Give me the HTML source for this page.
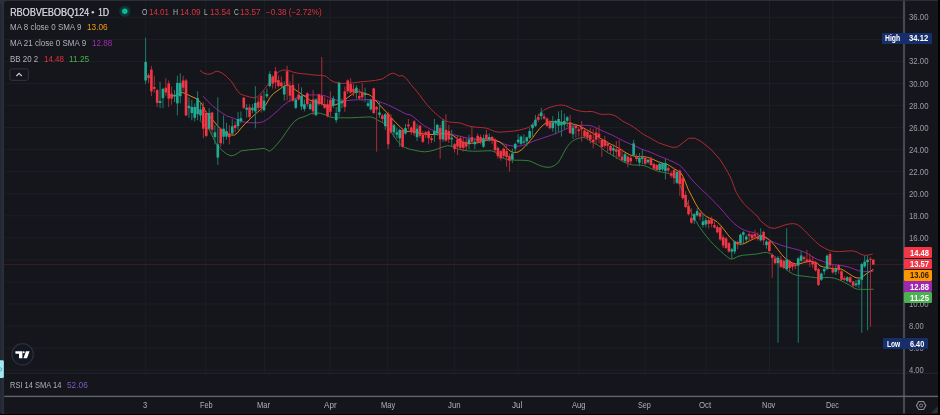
<!DOCTYPE html>
<html><head><meta charset="utf-8"><title>chart</title>
<style>
html,body{margin:0;padding:0;}
body{width:940px;height:415px;overflow:hidden;background:#000;position:relative;font-family:"Liberation Sans",sans-serif;}
.abs{position:absolute;}
#strip{left:0;top:0;width:8px;height:413.6px;background:linear-gradient(90deg,#242834 0,#242834 2.0px,#2a2e3a 2.4px);border-radius:0 0 0 2px;}
#topstrip{left:0;top:0;width:938px;height:4px;background:#2a2f3b;}
#panel{left:4.3px;top:0.7px;width:933.7px;height:412.9px;background:#14161b;border-radius:3px 0 2px 2px;overflow:hidden;}
svg{position:absolute;left:0;top:0;}
.t{position:absolute;line-height:12px;white-space:nowrap;transform-origin:0 50%;}
.tag{position:absolute;height:10.8px;}
#wrap{position:absolute;left:0;top:0;width:940px;height:415px;overflow:hidden;filter:blur(0.45px);}
</style></head><body><div id="wrap">
<div class="abs" id="strip"></div>
<div class="abs" id="topstrip"></div>
<div class="abs" id="panel"></div>
<svg width="940" height="415" viewBox="0 0 940 415">
<rect x="4.3" y="369.5" width="899" height="1" fill="#1c1e25"/><rect x="4.3" y="347.5" width="899" height="1" fill="#1c1e25"/><rect x="4.3" y="325.5" width="899" height="1" fill="#1c1e25"/><rect x="4.3" y="303.4" width="899" height="1" fill="#1c1e25"/><rect x="4.3" y="281.4" width="899" height="1" fill="#1c1e25"/><rect x="4.3" y="259.3" width="899" height="1" fill="#1c1e25"/><rect x="4.3" y="237.3" width="899" height="1" fill="#1c1e25"/><rect x="4.3" y="215.3" width="899" height="1" fill="#1c1e25"/><rect x="4.3" y="193.2" width="899" height="1" fill="#1c1e25"/><rect x="4.3" y="171.2" width="899" height="1" fill="#1c1e25"/><rect x="4.3" y="149.1" width="899" height="1" fill="#1c1e25"/><rect x="4.3" y="127.1" width="899" height="1" fill="#1c1e25"/><rect x="4.3" y="105.1" width="899" height="1" fill="#1c1e25"/><rect x="4.3" y="83.0" width="899" height="1" fill="#1c1e25"/><rect x="4.3" y="61.0" width="899" height="1" fill="#1c1e25"/><rect x="4.3" y="38.9" width="899" height="1" fill="#1c1e25"/><rect x="4.3" y="16.9" width="899" height="1" fill="#1c1e25"/><rect x="145.2" y="1" width="1" height="372" fill="#1c1e25"/><rect x="205.2" y="1" width="1" height="372" fill="#1c1e25"/><rect x="264.0" y="1" width="1" height="372" fill="#1c1e25"/><rect x="329.5" y="1" width="1" height="372" fill="#1c1e25"/><rect x="386.9" y="1" width="1" height="372" fill="#1c1e25"/><rect x="453.8" y="1" width="1" height="372" fill="#1c1e25"/><rect x="517.6" y="1" width="1" height="372" fill="#1c1e25"/><rect x="578.5" y="1" width="1" height="372" fill="#1c1e25"/><rect x="644.7" y="1" width="1" height="372" fill="#1c1e25"/><rect x="705.4" y="1" width="1" height="372" fill="#1c1e25"/><rect x="769.0" y="1" width="1" height="372" fill="#1c1e25"/><rect x="832.3" y="1" width="1" height="372" fill="#1c1e25"/>
<rect x="4.3" y="372.7" width="934" height="1" fill="#24272f"/>
<line x1="4.3" y1="264.5" x2="903" y2="264.5" stroke="#f23645" stroke-width="1" stroke-dasharray="1 1" opacity="0.34"/>
<g id="lines">
<polyline points="199.8,120.2 209.3,129.8 212.9,137.2 215.8,142.9 219.5,147.9 223.1,151.2 226.7,154.0 231.0,155.8 233.9,155.3 237.5,153.3 241.1,150.9 248.4,150.0 255.6,149.3 261.4,148.6 264.2,148.4 267.1,149.9 269.6,151.3 272.9,148.8 277.3,144.0 281.6,138.7 285.9,132.5 290.3,126.2 294.6,121.3 298.9,118.3 305.0,116.4 310.7,113.7 315.5,112.8 320.4,113.3 325.2,114.8 329.6,117.0 334.5,117.8 339.3,117.8 344.1,117.8 351.3,117.8 358.6,117.4 365.8,117.1 370.6,116.9 374.2,118.0 377.8,120.2 381.4,122.0 385.1,124.1 389.9,129.8 393.5,135.7 397.1,140.6 400.7,144.5 404.3,147.2 409.6,149.2 414.8,150.3 419.6,151.3 424.5,151.8 429.3,151.3 434.1,150.1 438.9,148.4 443.7,146.7 447.3,145.7 451.0,146.1 454.6,147.4 458.2,149.0 463.0,150.2 467.8,150.9 472.7,151.2 477.5,151.2 482.3,151.0 487.1,150.8 491.9,150.8 495.5,152.3 500.0,156.5 504.8,158.9 510.8,160.0 516.9,160.2 524.1,160.3 528.9,160.8 532.5,162.0 536.1,163.8 539.8,165.5 543.4,166.7 547.0,167.3 550.6,167.1 554.2,165.7 557.8,163.0 560.2,159.3 562.7,154.7 565.1,150.1 567.5,146.3 569.9,143.4 572.3,141.3 575.9,139.2 579.5,138.0 583.1,137.5 586.7,138.3 590.0,140.8 593.6,142.9 597.2,144.7 600.8,147.2 604.5,150.4 608.1,152.9 611.7,154.9 615.3,156.7 618.9,159.0 622.5,161.3 626.1,163.1 629.8,164.4 633.4,165.0 637.0,165.1 640.6,165.1 644.2,165.7 647.8,167.0 651.4,168.7 655.1,170.3 658.7,171.5 662.3,172.2 665.9,172.8 669.5,173.6 673.6,175.3 676.7,178.6 679.2,183.3 681.6,189.2 684.0,195.1 686.4,201.2 689.3,207.8 691.7,213.4 695.3,220.0 698.9,226.1 702.5,231.1 706.1,235.9 709.8,240.5 713.4,244.3 717.0,247.9 720.6,251.1 724.2,254.4 727.8,257.4 730.7,259.1 733.9,258.5 737.5,256.6 742.3,255.3 749.5,254.7 756.7,254.0 760.0,253.4 763.6,252.6 767.2,252.6 770.8,253.8 774.5,256.2 778.1,259.8 781.7,264.3 785.3,268.3 788.9,271.5 792.5,273.8 796.1,275.2 801.0,275.9 805.8,276.4 810.6,277.0 815.4,277.6 819.5,278.1 824.8,277.5 829.6,277.5 834.5,278.2 839.3,279.9 844.1,282.2 848.9,284.8 853.7,287.8 857.3,289.2 862.2,289.4 868.2,289.4 873.5,289.2" fill="none" stroke="#357f39" stroke-width="1.0" stroke-linejoin="round"/>
<polyline points="199.8,70.1 203.1,72.9 207.5,74.2 211.8,73.7 214.7,71.8 217.6,71.2 221.9,72.9 226.7,76.6 231.6,81.8 235.2,87.3 237.6,91.3 240.8,94.2 244.5,95.5 249.3,96.9 254.1,97.8 257.7,96.6 261.3,93.2 264.9,88.6 268.6,83.7 272.2,78.9 275.8,74.4 279.4,71.4 283.0,70.0 287.8,70.2 292.7,72.0 297.5,73.2 302.3,73.7 307.1,74.1 311.9,74.8 316.7,75.2 321.6,75.4 326.4,76.4 329.6,79.5 334.5,82.2 341.7,83.4 347.7,83.3 353.7,82.8 361.0,81.8 368.2,81.2 375.4,80.4 382.7,78.9 386.5,76.1 391.1,73.6 393.5,73.1 397.1,74.9 399.5,76.2 401.9,75.5 404.3,76.8 408.0,80.4 410.8,84.6 415.6,89.9 419.6,94.9 423.3,100.0 426.9,104.5 430.5,108.6 434.1,112.1 437.7,115.3 441.3,118.3 444.9,120.6 448.6,121.9 453.4,122.4 458.2,122.7 461.8,123.4 465.4,124.9 469.0,126.1 472.7,126.8 477.5,127.3 482.3,127.6 487.1,128.3 490.7,129.8 494.3,131.3 498.0,132.1 500.0,132.2 504.8,131.8 509.6,131.4 514.5,131.0 519.3,130.1 524.1,128.9 528.9,127.4 532.5,124.3 536.1,119.6 539.8,114.1 543.4,110.4 547.0,108.5 550.6,107.1 554.2,106.1 557.8,105.3 561.4,105.0 565.1,105.5 568.7,107.0 572.3,108.8 575.9,110.0 579.5,110.9 583.1,111.6 586.7,111.7 590.0,111.4 593.6,111.8 597.2,113.2 600.8,114.3 604.5,114.4 608.1,114.1 611.7,114.6 615.3,115.9 618.9,118.2 622.5,121.0 626.1,122.9 629.8,124.7 633.4,127.0 637.0,129.5 640.6,132.4 644.2,134.8 647.8,136.7 651.4,138.6 655.1,140.9 658.7,142.8 662.3,144.1 665.9,145.3 669.5,146.5 673.1,147.4 677.6,146.9 683.8,142.1 688.5,138.3 694.8,138.2 701.1,141.5 710.5,148.9 719.9,159.4 724.2,166.1 727.8,172.2 731.4,179.3 733.9,186.3 736.3,192.5 739.9,198.4 743.5,203.2 747.1,206.9 750.7,210.2 754.3,213.5 758.0,217.0 760.0,220.2 764.8,224.4 769.6,227.7 774.5,228.4 779.3,227.0 784.1,225.2 788.9,224.0 793.7,223.6 797.3,224.5 801.0,227.2 804.6,230.7 808.2,234.3 811.8,237.9 815.4,241.5 819.5,245.2 824.8,248.3 829.6,250.6 834.5,251.4 839.3,251.5 844.1,251.3 848.9,250.9 853.7,251.0 857.3,252.2 861.0,254.3 864.6,255.4 868.2,255.1 872.7,254.1" fill="none" stroke="#ad2a35" stroke-width="1.0" stroke-linejoin="round"/>
<polyline points="203.1,96.1 207.5,101.0 212.3,105.6 217.1,109.4 221.9,112.9 226.7,115.9 234.8,118.6 239.6,120.9 244.5,122.2 249.3,122.7 254.1,122.8 258.9,122.8 263.7,121.5 268.6,118.5 273.4,114.5 278.2,110.2 283.0,105.6 287.8,102.0 292.7,99.4 297.5,97.2 302.3,95.9 307.1,95.1 311.9,94.9 316.7,94.9 321.6,95.2 326.4,96.2 329.6,97.6 334.5,99.6 339.3,100.8 344.1,100.9 348.9,100.4 353.7,99.9 358.6,99.8 363.4,99.7 368.2,99.4 373.0,99.6 377.8,101.0 382.7,102.9 387.5,104.7 392.3,107.0 397.1,109.4 401.9,111.9 406.7,114.3 410.0,114.7 413.6,117.0 417.2,120.1 420.8,123.2 424.5,126.0 428.1,128.0 431.7,129.8 435.3,131.4 438.9,132.7 443.7,133.4 448.6,133.9 453.4,134.7 458.2,135.8 463.0,137.0 467.8,138.1 472.7,138.9 477.5,139.4 482.3,139.8 487.1,140.0 491.9,140.0 496.7,140.7 500.0,142.2 503.6,143.8 507.2,145.0 510.8,145.7 514.5,146.2 518.1,146.2 521.7,145.7 525.3,144.5 528.9,143.1 532.5,141.5 536.1,140.2 539.8,139.0 543.4,137.8 547.0,136.6 550.6,135.4 554.2,134.1 557.8,132.6 561.4,131.0 565.1,129.4 568.7,127.8 572.3,126.6 575.9,125.8 579.5,125.4 583.1,125.3 586.7,125.3 590.0,125.5 593.6,126.6 597.2,128.4 600.8,130.1 604.5,131.8 608.1,133.3 611.7,134.9 615.3,136.7 618.9,138.6 622.5,140.4 626.1,142.2 629.8,143.8 633.4,145.3 637.0,147.0 640.6,148.6 644.2,150.1 647.8,151.3 651.4,152.6 655.1,154.2 658.7,155.9 662.3,157.3 665.9,158.6 669.5,160.3 674.8,162.5 679.6,165.3 683.3,168.7 686.9,173.3 690.5,178.0 694.1,182.1 697.7,185.9 701.3,189.4 704.9,192.6 708.6,196.1 712.2,199.8 715.8,203.4 719.4,207.1 723.0,211.1 726.6,215.4 730.2,219.6 733.9,223.3 737.5,226.2 741.1,228.6 744.7,230.3 748.3,231.5 751.9,232.2 755.5,233.1 759.6,235.2 764.8,237.8 769.6,240.3 774.5,242.6 779.3,244.6 784.1,246.2 788.9,247.5 793.7,248.7 798.6,250.0 803.4,251.7 808.2,254.2 813.0,257.2 817.8,259.7 820.0,260.3 824.8,262.1 829.6,263.9 834.5,264.8 839.3,265.3 844.1,266.1 848.9,267.1 853.7,268.9 858.6,270.7 863.4,271.6 868.2,271.6 873.5,271.3" fill="none" stroke="#8c25a6" stroke-width="1.0" stroke-linejoin="round"/>
<polyline points="170.1,95.7 176.1,95.3 182.2,92.5 185.8,93.7 190.6,96.1 196.6,98.8 201.4,103.0 205.0,110.3 209.3,116.3 213.7,121.1 218.0,126.4 222.3,130.5 226.7,133.4 231.7,135.1 234.6,135.0 237.5,132.7 241.1,128.1 245.5,123.3 249.8,119.3 254.1,115.0 259.9,110.2 265.7,105.0 269.8,97.8 273.4,93.6 277.0,91.0 280.6,88.5 284.2,85.9 287.8,84.9 291.4,86.5 295.1,89.6 298.7,92.2 302.3,94.6 305.9,97.1 309.5,99.9 313.1,101.5 316.7,102.0 320.4,103.1 324.0,104.9 327.6,106.3 329.6,106.2 334.5,105.1 339.3,103.3 344.1,100.8 347.7,97.6 351.3,94.9 354.9,92.7 358.6,91.7 362.2,92.5 365.8,93.7 369.4,94.9 371.8,96.5 375.4,100.0 379.0,104.4 382.7,108.2 386.3,112.0 389.9,116.4 393.5,120.2 397.1,123.9 400.7,127.5 404.3,130.6 408.0,131.5 410.0,131.2 414.8,131.7 419.6,133.2 424.5,134.1 429.3,134.5 434.1,134.5 438.9,134.1 443.7,133.5 448.6,133.8 453.4,135.8 457.0,138.3 460.6,140.9 464.2,142.8 467.8,143.4 471.4,143.4 475.1,143.0 478.7,142.5 482.3,141.7 485.9,140.6 489.5,139.6 493.1,139.7 496.7,140.9 500.0,142.0 503.6,145.1 507.2,148.6 510.8,151.5 514.5,152.7 518.1,152.0 521.7,149.7 525.3,146.2 528.9,142.1 532.5,137.8 536.1,133.0 539.8,128.4 543.4,124.8 547.0,122.4 550.6,121.6 554.2,121.5 557.8,121.7 561.4,122.2 565.1,122.9 568.7,123.4 572.3,123.9 575.9,124.7 579.5,125.9 583.1,127.8 586.7,129.9 590.0,131.5 593.6,133.7 597.2,136.1 600.8,138.6 604.5,140.9 608.1,142.9 611.7,144.6 615.3,146.3 618.9,148.3 622.5,150.6 626.1,152.9 629.8,154.8 633.4,156.0 637.0,156.5 640.6,156.6 644.2,156.7 647.8,157.4 651.4,158.6 655.1,160.3 658.7,162.0 662.3,163.1 665.9,163.9 669.5,165.5 673.6,168.6 677.2,170.4 680.8,172.9 683.3,177.1 685.7,182.9 688.1,189.1 691.7,196.1 695.3,203.2 698.9,209.1 702.5,213.3 706.1,216.4 709.8,218.2 713.4,219.6 717.0,221.7 720.6,225.3 724.2,229.9 727.8,234.6 731.4,238.9 735.1,242.2 738.7,244.0 742.3,244.1 745.9,242.9 749.5,240.8 753.1,239.1 756.7,237.4 760.0,235.5 763.6,236.2 767.2,238.1 770.8,241.2 774.5,245.2 778.1,249.9 781.7,254.6 785.3,258.3 788.9,261.1 792.5,263.0 796.1,263.8 799.8,263.7 803.4,262.7 807.0,261.7 810.6,261.4 814.2,262.1 817.8,263.5 820.0,266.0 823.6,267.0 827.2,267.7 830.8,268.4 834.5,268.8 838.1,268.6 841.7,269.2 845.3,271.3 848.9,273.7 852.5,276.1 856.1,277.8 859.8,278.1 863.4,276.1 867.0,273.3 870.6,271.0 873.5,269.4" fill="none" stroke="#dc8712" stroke-width="1.0" stroke-linejoin="round"/>
</g>
<g id="candles">
<rect x="145.11" y="37.7" width="1" height="46.4" fill="#1c7d6d"/>
<rect x="144.31" y="61.9" width="2.6" height="18.6" fill="#22ab94"/>
<rect x="148.00" y="73.3" width="1" height="9.6" fill="#aa2c39"/>
<rect x="147.20" y="75.2" width="2.6" height="2.9" fill="#f23645"/>
<rect x="150.89" y="66.0" width="1" height="30.1" fill="#aa2c39"/>
<rect x="150.09" y="69.6" width="2.6" height="21.7" fill="#f23645"/>
<rect x="153.77" y="75.7" width="1" height="16.9" fill="#aa2c39"/>
<rect x="152.97" y="87.0" width="2.6" height="1.9" fill="#f23645"/>
<rect x="156.66" y="88.9" width="1" height="18.1" fill="#aa2c39"/>
<rect x="155.86" y="90.1" width="2.6" height="12.8" fill="#f23645"/>
<rect x="159.55" y="81.7" width="1" height="26.5" fill="#1c7d6d"/>
<rect x="158.75" y="101.0" width="2.6" height="1.9" fill="#22ab94"/>
<rect x="162.44" y="87.7" width="1" height="20.5" fill="#1c7d6d"/>
<rect x="161.64" y="88.9" width="2.6" height="9.2" fill="#22ab94"/>
<rect x="165.32" y="78.1" width="1" height="18.1" fill="#aa2c39"/>
<rect x="164.52" y="87.7" width="2.6" height="4.8" fill="#f23645"/>
<rect x="168.21" y="80.5" width="1" height="26.5" fill="#aa2c39"/>
<rect x="167.41" y="83.4" width="2.6" height="15.2" fill="#f23645"/>
<rect x="171.10" y="86.5" width="1" height="18.1" fill="#aa2c39"/>
<rect x="170.30" y="93.7" width="2.6" height="4.8" fill="#f23645"/>
<rect x="173.99" y="90.1" width="1" height="12.0" fill="#1c7d6d"/>
<rect x="173.19" y="94.9" width="2.6" height="1.7" fill="#22ab94"/>
<rect x="176.87" y="75.7" width="1" height="39.8" fill="#1c7d6d"/>
<rect x="176.07" y="82.9" width="2.6" height="20.5" fill="#22ab94"/>
<rect x="179.76" y="73.3" width="1" height="30.1" fill="#1c7d6d"/>
<rect x="178.96" y="82.9" width="2.6" height="13.3" fill="#22ab94"/>
<rect x="182.65" y="75.7" width="1" height="15.7" fill="#aa2c39"/>
<rect x="181.85" y="80.5" width="2.6" height="7.2" fill="#f23645"/>
<rect x="185.54" y="78.8" width="1" height="37.1" fill="#aa2c39"/>
<rect x="184.74" y="80.5" width="2.6" height="34.9" fill="#f23645"/>
<rect x="188.43" y="97.3" width="1" height="20.5" fill="#1c7d6d"/>
<rect x="187.63" y="105.8" width="2.6" height="2.4" fill="#22ab94"/>
<rect x="191.31" y="99.8" width="1" height="20.5" fill="#1c7d6d"/>
<rect x="190.51" y="107.0" width="2.6" height="6.0" fill="#22ab94"/>
<rect x="194.20" y="103.4" width="1" height="18.1" fill="#1c7d6d"/>
<rect x="193.40" y="107.0" width="2.6" height="10.8" fill="#22ab94"/>
<rect x="197.09" y="91.3" width="1" height="28.9" fill="#1c7d6d"/>
<rect x="196.29" y="98.1" width="2.6" height="16.1" fill="#22ab94"/>
<rect x="199.98" y="102.2" width="1" height="18.1" fill="#1c7d6d"/>
<rect x="199.18" y="109.4" width="2.6" height="6.0" fill="#22ab94"/>
<rect x="202.86" y="102.2" width="1" height="36.1" fill="#aa2c39"/>
<rect x="202.06" y="107.0" width="2.6" height="21.7" fill="#f23645"/>
<rect x="205.75" y="111.8" width="1" height="25.3" fill="#aa2c39"/>
<rect x="204.95" y="113.0" width="2.6" height="22.9" fill="#f23645"/>
<rect x="208.64" y="108.2" width="1" height="21.7" fill="#1c7d6d"/>
<rect x="207.84" y="113.0" width="2.6" height="15.7" fill="#22ab94"/>
<rect x="211.53" y="111.8" width="1" height="22.9" fill="#aa2c39"/>
<rect x="210.73" y="112.5" width="2.6" height="17.3" fill="#f23645"/>
<rect x="214.41" y="125.1" width="1" height="19.3" fill="#1c7d6d"/>
<rect x="213.61" y="132.3" width="2.6" height="4.8" fill="#22ab94"/>
<rect x="217.30" y="97.3" width="1" height="67.5" fill="#1c7d6d"/>
<rect x="216.50" y="144.3" width="2.6" height="13.3" fill="#22ab94"/>
<rect x="220.19" y="127.5" width="1" height="19.3" fill="#aa2c39"/>
<rect x="219.39" y="128.7" width="2.6" height="14.5" fill="#f23645"/>
<rect x="223.08" y="115.4" width="1" height="28.9" fill="#1c7d6d"/>
<rect x="222.28" y="128.7" width="2.6" height="8.0" fill="#22ab94"/>
<rect x="225.97" y="122.7" width="1" height="16.9" fill="#1c7d6d"/>
<rect x="225.17" y="131.1" width="2.6" height="5.5" fill="#22ab94"/>
<rect x="228.85" y="125.1" width="1" height="19.3" fill="#aa2c39"/>
<rect x="228.05" y="133.5" width="2.6" height="3.6" fill="#f23645"/>
<rect x="231.74" y="119.0" width="1" height="15.7" fill="#1c7d6d"/>
<rect x="230.94" y="126.3" width="2.6" height="7.2" fill="#22ab94"/>
<rect x="234.63" y="121.4" width="1" height="10.8" fill="#aa2c39"/>
<rect x="233.83" y="125.1" width="2.6" height="2.9" fill="#f23645"/>
<rect x="237.52" y="111.8" width="1" height="18.1" fill="#1c7d6d"/>
<rect x="236.72" y="119.0" width="2.6" height="7.2" fill="#22ab94"/>
<rect x="240.40" y="111.4" width="1" height="12.0" fill="#1c7d6d"/>
<rect x="239.60" y="118.2" width="2.6" height="2.9" fill="#22ab94"/>
<rect x="243.29" y="97.0" width="1" height="12.0" fill="#aa2c39"/>
<rect x="242.49" y="97.7" width="2.6" height="10.1" fill="#f23645"/>
<rect x="246.18" y="104.2" width="1" height="13.3" fill="#1c7d6d"/>
<rect x="245.38" y="107.8" width="2.6" height="1.9" fill="#22ab94"/>
<rect x="249.07" y="104.2" width="1" height="14.5" fill="#aa2c39"/>
<rect x="248.27" y="107.3" width="2.6" height="9.6" fill="#f23645"/>
<rect x="251.95" y="104.2" width="1" height="8.9" fill="#1c7d6d"/>
<rect x="251.15" y="107.8" width="2.6" height="2.4" fill="#22ab94"/>
<rect x="254.84" y="86.1" width="1" height="42.2" fill="#1c7d6d"/>
<rect x="254.04" y="103.0" width="2.6" height="8.4" fill="#22ab94"/>
<rect x="257.73" y="97.0" width="1" height="13.3" fill="#aa2c39"/>
<rect x="256.93" y="101.8" width="2.6" height="6.0" fill="#f23645"/>
<rect x="260.62" y="93.4" width="1" height="19.3" fill="#aa2c39"/>
<rect x="259.82" y="95.8" width="2.6" height="12.0" fill="#f23645"/>
<rect x="263.51" y="91.0" width="1" height="20.5" fill="#1c7d6d"/>
<rect x="262.71" y="100.6" width="2.6" height="9.6" fill="#22ab94"/>
<rect x="266.39" y="88.6" width="1" height="9.6" fill="#1c7d6d"/>
<rect x="265.59" y="94.1" width="2.6" height="2.2" fill="#22ab94"/>
<rect x="269.28" y="71.2" width="1" height="16.1" fill="#1c7d6d"/>
<rect x="268.48" y="74.1" width="2.6" height="12.0" fill="#22ab94"/>
<rect x="272.17" y="75.3" width="1" height="13.3" fill="#aa2c39"/>
<rect x="271.37" y="76.5" width="2.6" height="7.2" fill="#f23645"/>
<rect x="275.06" y="66.9" width="1" height="21.7" fill="#aa2c39"/>
<rect x="274.26" y="71.2" width="2.6" height="11.3" fill="#f23645"/>
<rect x="277.94" y="75.3" width="1" height="12.0" fill="#aa2c39"/>
<rect x="277.14" y="80.1" width="2.6" height="6.0" fill="#f23645"/>
<rect x="280.83" y="76.5" width="1" height="10.8" fill="#aa2c39"/>
<rect x="280.03" y="82.5" width="2.6" height="3.6" fill="#f23645"/>
<rect x="283.72" y="81.3" width="1" height="19.3" fill="#1c7d6d"/>
<rect x="282.92" y="86.1" width="2.6" height="8.4" fill="#22ab94"/>
<rect x="286.61" y="65.7" width="1" height="34.9" fill="#aa2c39"/>
<rect x="285.81" y="71.2" width="2.6" height="14.9" fill="#f23645"/>
<rect x="289.50" y="81.3" width="1" height="20.5" fill="#aa2c39"/>
<rect x="288.69" y="86.1" width="2.6" height="9.6" fill="#f23645"/>
<rect x="292.38" y="74.1" width="1" height="27.7" fill="#aa2c39"/>
<rect x="291.58" y="84.9" width="2.6" height="15.7" fill="#f23645"/>
<rect x="295.27" y="98.2" width="1" height="10.8" fill="#1c7d6d"/>
<rect x="294.47" y="99.4" width="2.6" height="8.4" fill="#22ab94"/>
<rect x="298.16" y="83.7" width="1" height="16.9" fill="#aa2c39"/>
<rect x="297.36" y="94.6" width="2.6" height="4.8" fill="#f23645"/>
<rect x="301.05" y="87.3" width="1" height="22.9" fill="#1c7d6d"/>
<rect x="300.25" y="95.8" width="2.6" height="10.8" fill="#22ab94"/>
<rect x="303.93" y="99.4" width="1" height="12.0" fill="#1c7d6d"/>
<rect x="303.13" y="104.2" width="2.6" height="4.8" fill="#22ab94"/>
<rect x="306.82" y="92.2" width="1" height="14.5" fill="#aa2c39"/>
<rect x="306.02" y="93.4" width="2.6" height="10.8" fill="#f23645"/>
<rect x="309.71" y="101.8" width="1" height="8.4" fill="#1c7d6d"/>
<rect x="308.91" y="104.2" width="2.6" height="4.8" fill="#22ab94"/>
<rect x="312.60" y="89.8" width="1" height="25.3" fill="#aa2c39"/>
<rect x="311.80" y="99.4" width="2.6" height="12.0" fill="#f23645"/>
<rect x="315.48" y="98.2" width="1" height="18.1" fill="#1c7d6d"/>
<rect x="314.68" y="99.4" width="2.6" height="15.7" fill="#22ab94"/>
<rect x="318.37" y="93.4" width="1" height="12.0" fill="#aa2c39"/>
<rect x="317.57" y="94.6" width="2.6" height="9.6" fill="#f23645"/>
<rect x="321.26" y="57.2" width="1" height="48.2" fill="#aa2c39"/>
<rect x="320.46" y="95.8" width="2.6" height="8.4" fill="#f23645"/>
<rect x="324.15" y="97.0" width="1" height="12.0" fill="#aa2c39"/>
<rect x="323.35" y="104.2" width="2.6" height="3.6" fill="#f23645"/>
<rect x="327.04" y="99.4" width="1" height="18.1" fill="#aa2c39"/>
<rect x="326.24" y="104.2" width="2.6" height="12.0" fill="#f23645"/>
<rect x="329.92" y="91.3" width="1" height="25.3" fill="#aa2c39"/>
<rect x="329.12" y="99.8" width="2.6" height="12.0" fill="#f23645"/>
<rect x="332.81" y="96.1" width="1" height="12.0" fill="#1c7d6d"/>
<rect x="332.01" y="98.6" width="2.6" height="7.2" fill="#22ab94"/>
<rect x="335.70" y="107.0" width="1" height="15.7" fill="#1c7d6d"/>
<rect x="334.90" y="113.0" width="2.6" height="7.2" fill="#22ab94"/>
<rect x="338.59" y="81.7" width="1" height="34.9" fill="#1c7d6d"/>
<rect x="337.79" y="82.9" width="2.6" height="28.9" fill="#22ab94"/>
<rect x="341.47" y="98.6" width="1" height="9.6" fill="#1c7d6d"/>
<rect x="340.67" y="101.4" width="2.6" height="1.9" fill="#22ab94"/>
<rect x="344.36" y="86.5" width="1" height="25.3" fill="#aa2c39"/>
<rect x="343.56" y="91.3" width="2.6" height="15.7" fill="#f23645"/>
<rect x="347.25" y="79.3" width="1" height="14.5" fill="#aa2c39"/>
<rect x="346.45" y="80.5" width="2.6" height="10.8" fill="#f23645"/>
<rect x="350.14" y="78.1" width="1" height="15.7" fill="#aa2c39"/>
<rect x="349.34" y="84.1" width="2.6" height="8.4" fill="#f23645"/>
<rect x="353.02" y="84.1" width="1" height="12.0" fill="#aa2c39"/>
<rect x="352.22" y="88.9" width="2.6" height="3.6" fill="#f23645"/>
<rect x="355.91" y="85.3" width="1" height="13.3" fill="#1c7d6d"/>
<rect x="355.11" y="87.7" width="2.6" height="4.8" fill="#22ab94"/>
<rect x="358.80" y="88.9" width="1" height="10.8" fill="#aa2c39"/>
<rect x="358.00" y="96.1" width="2.6" height="2.4" fill="#f23645"/>
<rect x="361.69" y="82.9" width="1" height="18.1" fill="#aa2c39"/>
<rect x="360.89" y="92.5" width="2.6" height="4.8" fill="#f23645"/>
<rect x="364.58" y="87.7" width="1" height="14.5" fill="#1c7d6d"/>
<rect x="363.78" y="93.3" width="2.6" height="1.7" fill="#22ab94"/>
<rect x="367.46" y="99.8" width="1" height="7.2" fill="#1c7d6d"/>
<rect x="366.66" y="103.4" width="2.6" height="2.4" fill="#22ab94"/>
<rect x="370.35" y="98.6" width="1" height="12.0" fill="#1c7d6d"/>
<rect x="369.55" y="99.8" width="2.6" height="9.6" fill="#22ab94"/>
<rect x="373.24" y="87.7" width="1" height="26.5" fill="#aa2c39"/>
<rect x="372.44" y="88.4" width="2.6" height="24.6" fill="#f23645"/>
<rect x="376.13" y="105.8" width="1" height="45.8" fill="#aa2c39"/>
<rect x="375.33" y="107.0" width="2.6" height="2.4" fill="#f23645"/>
<rect x="379.01" y="102.2" width="1" height="15.7" fill="#1c7d6d"/>
<rect x="378.21" y="112.5" width="2.6" height="2.4" fill="#22ab94"/>
<rect x="381.90" y="114.2" width="1" height="8.4" fill="#aa2c39"/>
<rect x="381.10" y="115.4" width="2.6" height="3.6" fill="#f23645"/>
<rect x="384.79" y="113.0" width="1" height="16.9" fill="#1c7d6d"/>
<rect x="383.99" y="114.2" width="2.6" height="12.0" fill="#22ab94"/>
<rect x="387.68" y="111.8" width="1" height="37.3" fill="#aa2c39"/>
<rect x="386.88" y="113.5" width="2.6" height="30.8" fill="#f23645"/>
<rect x="390.56" y="114.2" width="1" height="19.3" fill="#aa2c39"/>
<rect x="389.76" y="117.8" width="2.6" height="14.5" fill="#f23645"/>
<rect x="393.45" y="123.9" width="1" height="13.3" fill="#1c7d6d"/>
<rect x="392.65" y="125.1" width="2.6" height="7.2" fill="#22ab94"/>
<rect x="396.34" y="127.5" width="1" height="10.8" fill="#1c7d6d"/>
<rect x="395.54" y="132.3" width="2.6" height="2.4" fill="#22ab94"/>
<rect x="399.23" y="128.7" width="1" height="18.1" fill="#1c7d6d"/>
<rect x="398.43" y="129.9" width="2.6" height="8.4" fill="#22ab94"/>
<rect x="402.12" y="128.7" width="1" height="19.3" fill="#aa2c39"/>
<rect x="401.32" y="129.9" width="2.6" height="16.9" fill="#f23645"/>
<rect x="405.00" y="123.9" width="1" height="10.8" fill="#1c7d6d"/>
<rect x="404.20" y="128.0" width="2.6" height="5.5" fill="#22ab94"/>
<rect x="407.89" y="119.0" width="1" height="10.8" fill="#aa2c39"/>
<rect x="407.09" y="124.6" width="2.6" height="1.7" fill="#f23645"/>
<rect x="410.78" y="126.3" width="1" height="8.4" fill="#aa2c39"/>
<rect x="409.98" y="127.5" width="2.6" height="4.8" fill="#f23645"/>
<rect x="413.67" y="120.2" width="1" height="15.7" fill="#aa2c39"/>
<rect x="412.87" y="121.4" width="2.6" height="12.0" fill="#f23645"/>
<rect x="416.55" y="123.9" width="1" height="16.9" fill="#1c7d6d"/>
<rect x="415.75" y="128.7" width="2.6" height="8.4" fill="#22ab94"/>
<rect x="419.44" y="124.9" width="1" height="13.3" fill="#aa2c39"/>
<rect x="418.64" y="125.7" width="2.6" height="10.1" fill="#f23645"/>
<rect x="422.33" y="131.0" width="1" height="12.0" fill="#aa2c39"/>
<rect x="421.53" y="134.6" width="2.6" height="7.2" fill="#f23645"/>
<rect x="425.22" y="131.0" width="1" height="7.2" fill="#aa2c39"/>
<rect x="424.42" y="132.2" width="2.6" height="2.4" fill="#f23645"/>
<rect x="428.10" y="129.8" width="1" height="14.5" fill="#aa2c39"/>
<rect x="427.30" y="131.4" width="2.6" height="6.7" fill="#f23645"/>
<rect x="430.99" y="135.8" width="1" height="7.2" fill="#aa2c39"/>
<rect x="430.19" y="138.2" width="2.6" height="1.9" fill="#f23645"/>
<rect x="433.88" y="118.9" width="1" height="22.9" fill="#1c7d6d"/>
<rect x="433.08" y="131.0" width="2.6" height="3.6" fill="#22ab94"/>
<rect x="436.77" y="123.7" width="1" height="12.0" fill="#1c7d6d"/>
<rect x="435.97" y="124.9" width="2.6" height="8.4" fill="#22ab94"/>
<rect x="439.66" y="124.9" width="1" height="33.7" fill="#aa2c39"/>
<rect x="438.86" y="128.1" width="2.6" height="11.3" fill="#f23645"/>
<rect x="442.54" y="118.9" width="1" height="22.9" fill="#1c7d6d"/>
<rect x="441.74" y="120.8" width="2.6" height="18.6" fill="#22ab94"/>
<rect x="445.43" y="114.1" width="1" height="27.7" fill="#aa2c39"/>
<rect x="444.63" y="129.8" width="2.6" height="10.8" fill="#f23645"/>
<rect x="448.32" y="124.9" width="1" height="18.1" fill="#aa2c39"/>
<rect x="447.52" y="131.0" width="2.6" height="8.4" fill="#f23645"/>
<rect x="451.21" y="129.8" width="1" height="16.9" fill="#1c7d6d"/>
<rect x="450.41" y="137.7" width="2.6" height="1.7" fill="#22ab94"/>
<rect x="454.09" y="143.0" width="1" height="9.6" fill="#aa2c39"/>
<rect x="453.29" y="144.2" width="2.6" height="4.8" fill="#f23645"/>
<rect x="456.98" y="135.8" width="1" height="19.3" fill="#aa2c39"/>
<rect x="456.18" y="139.4" width="2.6" height="7.2" fill="#f23645"/>
<rect x="459.87" y="135.8" width="1" height="14.5" fill="#aa2c39"/>
<rect x="459.07" y="138.2" width="2.6" height="9.6" fill="#f23645"/>
<rect x="462.76" y="137.0" width="1" height="14.5" fill="#aa2c39"/>
<rect x="461.96" y="141.8" width="2.6" height="6.0" fill="#f23645"/>
<rect x="465.64" y="138.2" width="1" height="12.0" fill="#aa2c39"/>
<rect x="464.84" y="141.8" width="2.6" height="4.8" fill="#f23645"/>
<rect x="468.53" y="134.6" width="1" height="14.5" fill="#1c7d6d"/>
<rect x="467.73" y="139.4" width="2.6" height="4.8" fill="#22ab94"/>
<rect x="471.42" y="126.1" width="1" height="18.1" fill="#aa2c39"/>
<rect x="470.62" y="137.0" width="2.6" height="4.8" fill="#f23645"/>
<rect x="474.31" y="138.2" width="1" height="10.8" fill="#1c7d6d"/>
<rect x="473.51" y="141.8" width="2.6" height="2.4" fill="#22ab94"/>
<rect x="477.20" y="133.4" width="1" height="10.8" fill="#aa2c39"/>
<rect x="476.40" y="135.8" width="2.6" height="6.0" fill="#f23645"/>
<rect x="480.08" y="134.6" width="1" height="9.6" fill="#aa2c39"/>
<rect x="479.28" y="137.0" width="2.6" height="4.8" fill="#f23645"/>
<rect x="482.97" y="134.6" width="1" height="13.3" fill="#1c7d6d"/>
<rect x="482.17" y="138.2" width="2.6" height="8.4" fill="#22ab94"/>
<rect x="485.86" y="129.8" width="1" height="10.8" fill="#aa2c39"/>
<rect x="485.06" y="134.6" width="2.6" height="4.8" fill="#f23645"/>
<rect x="488.75" y="133.4" width="1" height="8.4" fill="#1c7d6d"/>
<rect x="487.95" y="137.0" width="2.6" height="2.4" fill="#22ab94"/>
<rect x="491.63" y="135.8" width="1" height="8.4" fill="#aa2c39"/>
<rect x="490.83" y="137.0" width="2.6" height="3.6" fill="#f23645"/>
<rect x="494.52" y="138.2" width="1" height="14.5" fill="#aa2c39"/>
<rect x="493.72" y="139.4" width="2.6" height="10.8" fill="#f23645"/>
<rect x="497.41" y="146.6" width="1" height="12.0" fill="#aa2c39"/>
<rect x="496.61" y="147.8" width="2.6" height="8.4" fill="#f23645"/>
<rect x="500.30" y="149.9" width="1" height="10.8" fill="#aa2c39"/>
<rect x="499.50" y="151.1" width="2.6" height="7.2" fill="#f23645"/>
<rect x="503.18" y="147.5" width="1" height="10.8" fill="#aa2c39"/>
<rect x="502.38" y="148.7" width="2.6" height="7.2" fill="#f23645"/>
<rect x="506.07" y="145.1" width="1" height="21.7" fill="#aa2c39"/>
<rect x="505.27" y="151.1" width="2.6" height="6.0" fill="#f23645"/>
<rect x="508.96" y="153.5" width="1" height="18.1" fill="#aa2c39"/>
<rect x="508.16" y="155.9" width="2.6" height="4.8" fill="#f23645"/>
<rect x="511.85" y="148.7" width="1" height="14.5" fill="#1c7d6d"/>
<rect x="511.05" y="153.5" width="2.6" height="6.0" fill="#22ab94"/>
<rect x="514.74" y="142.7" width="1" height="9.6" fill="#1c7d6d"/>
<rect x="513.94" y="143.9" width="2.6" height="4.8" fill="#22ab94"/>
<rect x="517.62" y="134.2" width="1" height="9.6" fill="#1c7d6d"/>
<rect x="516.82" y="139.8" width="2.6" height="2.4" fill="#22ab94"/>
<rect x="520.51" y="135.4" width="1" height="9.6" fill="#1c7d6d"/>
<rect x="519.71" y="136.6" width="2.6" height="7.2" fill="#22ab94"/>
<rect x="523.40" y="134.2" width="1" height="9.6" fill="#1c7d6d"/>
<rect x="522.60" y="141.4" width="2.6" height="1.2" fill="#22ab94"/>
<rect x="526.29" y="136.6" width="1" height="9.6" fill="#1c7d6d"/>
<rect x="525.49" y="137.3" width="2.6" height="4.1" fill="#22ab94"/>
<rect x="529.17" y="128.2" width="1" height="10.8" fill="#1c7d6d"/>
<rect x="528.37" y="131.1" width="2.6" height="6.7" fill="#22ab94"/>
<rect x="532.06" y="123.4" width="1" height="13.3" fill="#1c7d6d"/>
<rect x="531.26" y="124.6" width="2.6" height="3.6" fill="#22ab94"/>
<rect x="534.95" y="114.9" width="1" height="12.0" fill="#1c7d6d"/>
<rect x="534.15" y="119.8" width="2.6" height="6.0" fill="#22ab94"/>
<rect x="537.84" y="113.7" width="1" height="8.4" fill="#aa2c39"/>
<rect x="537.04" y="117.3" width="2.6" height="2.4" fill="#f23645"/>
<rect x="540.72" y="107.7" width="1" height="12.0" fill="#1c7d6d"/>
<rect x="539.92" y="112.5" width="2.6" height="3.6" fill="#22ab94"/>
<rect x="543.61" y="113.7" width="1" height="6.0" fill="#aa2c39"/>
<rect x="542.81" y="116.6" width="2.6" height="1.9" fill="#f23645"/>
<rect x="546.50" y="117.3" width="1" height="9.6" fill="#aa2c39"/>
<rect x="545.70" y="118.6" width="2.6" height="7.2" fill="#f23645"/>
<rect x="549.39" y="119.8" width="1" height="9.6" fill="#aa2c39"/>
<rect x="548.59" y="122.2" width="2.6" height="6.0" fill="#f23645"/>
<rect x="552.28" y="116.1" width="1" height="15.7" fill="#1c7d6d"/>
<rect x="551.48" y="122.2" width="2.6" height="6.0" fill="#22ab94"/>
<rect x="555.16" y="119.8" width="1" height="14.5" fill="#1c7d6d"/>
<rect x="554.36" y="121.0" width="2.6" height="2.4" fill="#22ab94"/>
<rect x="558.05" y="111.3" width="1" height="20.5" fill="#1c7d6d"/>
<rect x="557.25" y="119.0" width="2.6" height="6.7" fill="#22ab94"/>
<rect x="560.94" y="110.1" width="1" height="26.5" fill="#1c7d6d"/>
<rect x="560.14" y="122.2" width="2.6" height="3.1" fill="#22ab94"/>
<rect x="563.83" y="113.7" width="1" height="15.7" fill="#1c7d6d"/>
<rect x="563.03" y="121.0" width="2.6" height="3.6" fill="#22ab94"/>
<rect x="566.71" y="116.1" width="1" height="10.8" fill="#1c7d6d"/>
<rect x="565.91" y="117.3" width="2.6" height="3.6" fill="#22ab94"/>
<rect x="569.60" y="114.9" width="1" height="19.3" fill="#aa2c39"/>
<rect x="568.80" y="122.2" width="2.6" height="10.8" fill="#f23645"/>
<rect x="572.49" y="123.4" width="1" height="15.7" fill="#1c7d6d"/>
<rect x="571.69" y="127.7" width="2.6" height="6.5" fill="#22ab94"/>
<rect x="575.38" y="124.6" width="1" height="13.3" fill="#aa2c39"/>
<rect x="574.58" y="125.8" width="2.6" height="2.4" fill="#f23645"/>
<rect x="578.27" y="127.0" width="1" height="9.6" fill="#aa2c39"/>
<rect x="577.47" y="129.4" width="2.6" height="1.7" fill="#f23645"/>
<rect x="581.15" y="121.0" width="1" height="20.5" fill="#aa2c39"/>
<rect x="580.35" y="127.0" width="2.6" height="2.4" fill="#f23645"/>
<rect x="584.04" y="129.4" width="1" height="8.4" fill="#aa2c39"/>
<rect x="583.24" y="130.6" width="2.6" height="6.0" fill="#f23645"/>
<rect x="586.93" y="129.4" width="1" height="10.8" fill="#aa2c39"/>
<rect x="586.13" y="131.8" width="2.6" height="6.0" fill="#f23645"/>
<rect x="589.82" y="127.7" width="1" height="15.7" fill="#aa2c39"/>
<rect x="589.02" y="134.9" width="2.6" height="4.8" fill="#f23645"/>
<rect x="592.70" y="128.9" width="1" height="19.3" fill="#aa2c39"/>
<rect x="591.90" y="139.8" width="2.6" height="2.4" fill="#f23645"/>
<rect x="595.59" y="127.7" width="1" height="16.9" fill="#aa2c39"/>
<rect x="594.79" y="132.5" width="2.6" height="7.2" fill="#f23645"/>
<rect x="598.48" y="125.3" width="1" height="18.1" fill="#aa2c39"/>
<rect x="597.68" y="133.7" width="2.6" height="3.6" fill="#f23645"/>
<rect x="601.37" y="138.6" width="1" height="18.1" fill="#aa2c39"/>
<rect x="600.57" y="139.8" width="2.6" height="7.2" fill="#f23645"/>
<rect x="604.25" y="136.1" width="1" height="12.0" fill="#aa2c39"/>
<rect x="603.45" y="139.8" width="2.6" height="6.0" fill="#f23645"/>
<rect x="607.14" y="141.0" width="1" height="10.8" fill="#aa2c39"/>
<rect x="606.34" y="143.4" width="2.6" height="2.4" fill="#f23645"/>
<rect x="610.03" y="144.6" width="1" height="9.6" fill="#aa2c39"/>
<rect x="609.23" y="145.8" width="2.6" height="4.8" fill="#f23645"/>
<rect x="612.92" y="144.6" width="1" height="12.0" fill="#1c7d6d"/>
<rect x="612.12" y="148.2" width="2.6" height="2.4" fill="#22ab94"/>
<rect x="615.81" y="141.0" width="1" height="18.1" fill="#aa2c39"/>
<rect x="615.01" y="149.4" width="2.6" height="2.4" fill="#f23645"/>
<rect x="618.69" y="139.8" width="1" height="18.1" fill="#aa2c39"/>
<rect x="617.89" y="149.4" width="2.6" height="7.2" fill="#f23645"/>
<rect x="621.58" y="149.4" width="1" height="12.0" fill="#aa2c39"/>
<rect x="620.78" y="156.6" width="2.6" height="3.6" fill="#f23645"/>
<rect x="624.47" y="153.0" width="1" height="9.6" fill="#1c7d6d"/>
<rect x="623.67" y="154.2" width="2.6" height="7.2" fill="#22ab94"/>
<rect x="627.36" y="155.4" width="1" height="12.0" fill="#aa2c39"/>
<rect x="626.56" y="156.6" width="2.6" height="6.0" fill="#f23645"/>
<rect x="630.24" y="155.4" width="1" height="9.6" fill="#aa2c39"/>
<rect x="629.44" y="157.8" width="2.6" height="3.6" fill="#f23645"/>
<rect x="633.13" y="139.8" width="1" height="16.9" fill="#1c7d6d"/>
<rect x="632.33" y="143.4" width="2.6" height="12.0" fill="#22ab94"/>
<rect x="636.02" y="154.2" width="1" height="7.2" fill="#aa2c39"/>
<rect x="635.22" y="156.6" width="2.6" height="2.4" fill="#f23645"/>
<rect x="638.91" y="153.0" width="1" height="13.3" fill="#1c7d6d"/>
<rect x="638.11" y="157.8" width="2.6" height="4.8" fill="#22ab94"/>
<rect x="641.79" y="149.4" width="1" height="14.5" fill="#1c7d6d"/>
<rect x="640.99" y="157.3" width="2.6" height="1.7" fill="#22ab94"/>
<rect x="644.68" y="156.6" width="1" height="8.4" fill="#aa2c39"/>
<rect x="643.88" y="157.8" width="2.6" height="6.0" fill="#f23645"/>
<rect x="647.57" y="159.0" width="1" height="4.8" fill="#1c7d6d"/>
<rect x="646.77" y="159.8" width="2.6" height="2.4" fill="#22ab94"/>
<rect x="650.46" y="156.6" width="1" height="9.6" fill="#aa2c39"/>
<rect x="649.66" y="159.0" width="2.6" height="6.0" fill="#f23645"/>
<rect x="653.35" y="162.7" width="1" height="7.2" fill="#aa2c39"/>
<rect x="652.55" y="163.9" width="2.6" height="4.8" fill="#f23645"/>
<rect x="656.23" y="163.9" width="1" height="7.2" fill="#aa2c39"/>
<rect x="655.43" y="165.1" width="2.6" height="4.8" fill="#f23645"/>
<rect x="659.12" y="161.4" width="1" height="10.8" fill="#1c7d6d"/>
<rect x="658.32" y="163.9" width="2.6" height="6.0" fill="#22ab94"/>
<rect x="662.01" y="162.7" width="1" height="8.4" fill="#1c7d6d"/>
<rect x="661.21" y="163.1" width="2.6" height="6.3" fill="#22ab94"/>
<rect x="664.90" y="159.0" width="1" height="20.5" fill="#1c7d6d"/>
<rect x="664.10" y="163.1" width="2.6" height="8.0" fill="#22ab94"/>
<rect x="667.78" y="166.3" width="1" height="6.0" fill="#aa2c39"/>
<rect x="666.98" y="168.2" width="2.6" height="2.2" fill="#f23645"/>
<rect x="670.67" y="170.8" width="1" height="7.2" fill="#aa2c39"/>
<rect x="669.87" y="173.3" width="2.6" height="2.4" fill="#f23645"/>
<rect x="673.56" y="167.2" width="1" height="16.9" fill="#aa2c39"/>
<rect x="672.76" y="170.1" width="2.6" height="8.0" fill="#f23645"/>
<rect x="676.45" y="170.8" width="1" height="13.3" fill="#1c7d6d"/>
<rect x="675.65" y="172.0" width="2.6" height="10.8" fill="#22ab94"/>
<rect x="679.33" y="169.6" width="1" height="26.5" fill="#aa2c39"/>
<rect x="678.53" y="170.8" width="2.6" height="13.3" fill="#f23645"/>
<rect x="682.22" y="176.9" width="1" height="22.9" fill="#aa2c39"/>
<rect x="681.42" y="178.1" width="2.6" height="20.0" fill="#f23645"/>
<rect x="685.11" y="191.3" width="1" height="16.9" fill="#aa2c39"/>
<rect x="684.31" y="194.9" width="2.6" height="12.0" fill="#f23645"/>
<rect x="688.00" y="199.8" width="1" height="15.7" fill="#aa2c39"/>
<rect x="687.20" y="205.8" width="2.6" height="8.4" fill="#f23645"/>
<rect x="690.89" y="208.2" width="1" height="15.7" fill="#aa2c39"/>
<rect x="690.09" y="217.8" width="2.6" height="4.8" fill="#f23645"/>
<rect x="693.77" y="213.0" width="1" height="10.8" fill="#1c7d6d"/>
<rect x="692.97" y="214.2" width="2.6" height="6.0" fill="#22ab94"/>
<rect x="696.66" y="208.2" width="1" height="8.4" fill="#1c7d6d"/>
<rect x="695.86" y="211.1" width="2.6" height="4.3" fill="#22ab94"/>
<rect x="699.55" y="211.8" width="1" height="8.4" fill="#aa2c39"/>
<rect x="698.75" y="213.0" width="2.6" height="3.6" fill="#f23645"/>
<rect x="702.44" y="214.2" width="1" height="13.3" fill="#1c7d6d"/>
<rect x="701.64" y="221.4" width="2.6" height="3.6" fill="#22ab94"/>
<rect x="705.32" y="217.8" width="1" height="9.6" fill="#1c7d6d"/>
<rect x="704.52" y="220.2" width="2.6" height="4.3" fill="#22ab94"/>
<rect x="708.21" y="217.8" width="1" height="10.8" fill="#aa2c39"/>
<rect x="707.41" y="220.2" width="2.6" height="3.6" fill="#f23645"/>
<rect x="711.10" y="216.6" width="1" height="10.8" fill="#aa2c39"/>
<rect x="710.30" y="219.0" width="2.6" height="4.8" fill="#f23645"/>
<rect x="713.99" y="221.4" width="1" height="7.2" fill="#aa2c39"/>
<rect x="713.19" y="225.1" width="2.6" height="2.4" fill="#f23645"/>
<rect x="716.87" y="225.1" width="1" height="8.4" fill="#aa2c39"/>
<rect x="716.07" y="227.0" width="2.6" height="5.3" fill="#f23645"/>
<rect x="719.76" y="226.3" width="1" height="14.5" fill="#aa2c39"/>
<rect x="718.96" y="227.5" width="2.6" height="12.0" fill="#f23645"/>
<rect x="722.65" y="234.7" width="1" height="13.3" fill="#aa2c39"/>
<rect x="721.85" y="237.1" width="2.6" height="8.4" fill="#f23645"/>
<rect x="725.54" y="237.1" width="1" height="12.0" fill="#aa2c39"/>
<rect x="724.74" y="238.3" width="2.6" height="9.6" fill="#f23645"/>
<rect x="728.43" y="241.9" width="1" height="10.8" fill="#aa2c39"/>
<rect x="727.63" y="243.1" width="2.6" height="8.4" fill="#f23645"/>
<rect x="731.31" y="248.0" width="1" height="10.8" fill="#1c7d6d"/>
<rect x="730.51" y="249.2" width="2.6" height="2.4" fill="#22ab94"/>
<rect x="734.20" y="240.7" width="1" height="13.3" fill="#1c7d6d"/>
<rect x="733.40" y="241.4" width="2.6" height="10.1" fill="#22ab94"/>
<rect x="737.09" y="240.7" width="1" height="8.4" fill="#aa2c39"/>
<rect x="736.29" y="241.9" width="2.6" height="2.4" fill="#f23645"/>
<rect x="739.98" y="233.5" width="1" height="12.0" fill="#1c7d6d"/>
<rect x="739.18" y="234.7" width="2.6" height="8.4" fill="#22ab94"/>
<rect x="742.86" y="231.1" width="1" height="12.0" fill="#1c7d6d"/>
<rect x="742.06" y="232.3" width="2.6" height="2.4" fill="#22ab94"/>
<rect x="745.75" y="234.7" width="1" height="7.2" fill="#1c7d6d"/>
<rect x="744.95" y="236.6" width="2.6" height="2.9" fill="#22ab94"/>
<rect x="748.64" y="232.3" width="1" height="8.4" fill="#aa2c39"/>
<rect x="747.84" y="234.2" width="2.6" height="1.7" fill="#f23645"/>
<rect x="751.53" y="233.5" width="1" height="6.0" fill="#aa2c39"/>
<rect x="750.73" y="234.7" width="2.6" height="3.6" fill="#f23645"/>
<rect x="754.41" y="229.9" width="1" height="9.6" fill="#aa2c39"/>
<rect x="753.61" y="234.2" width="2.6" height="2.4" fill="#f23645"/>
<rect x="757.30" y="232.3" width="1" height="8.4" fill="#aa2c39"/>
<rect x="756.50" y="236.6" width="2.6" height="2.4" fill="#f23645"/>
<rect x="760.19" y="228.3" width="1" height="13.3" fill="#1c7d6d"/>
<rect x="759.39" y="235.5" width="2.6" height="4.8" fill="#22ab94"/>
<rect x="763.08" y="230.7" width="1" height="14.5" fill="#aa2c39"/>
<rect x="762.28" y="231.9" width="2.6" height="8.4" fill="#f23645"/>
<rect x="765.97" y="240.3" width="1" height="8.4" fill="#1c7d6d"/>
<rect x="765.17" y="241.5" width="2.6" height="3.6" fill="#22ab94"/>
<rect x="768.85" y="239.1" width="1" height="13.3" fill="#aa2c39"/>
<rect x="768.05" y="241.5" width="2.6" height="9.6" fill="#f23645"/>
<rect x="771.74" y="253.6" width="1" height="24.1" fill="#aa2c39"/>
<rect x="770.94" y="254.8" width="2.6" height="3.1" fill="#f23645"/>
<rect x="774.63" y="256.0" width="1" height="8.4" fill="#aa2c39"/>
<rect x="773.83" y="258.4" width="2.6" height="4.8" fill="#f23645"/>
<rect x="777.52" y="256.0" width="1" height="86.7" fill="#1c7d6d"/>
<rect x="776.72" y="257.9" width="2.6" height="5.3" fill="#22ab94"/>
<rect x="780.40" y="256.0" width="1" height="12.0" fill="#aa2c39"/>
<rect x="779.60" y="259.6" width="2.6" height="7.2" fill="#f23645"/>
<rect x="783.29" y="259.6" width="1" height="9.6" fill="#aa2c39"/>
<rect x="782.49" y="260.8" width="2.6" height="7.2" fill="#f23645"/>
<rect x="786.18" y="228.3" width="1" height="42.2" fill="#1c7d6d"/>
<rect x="785.38" y="259.6" width="2.6" height="9.6" fill="#22ab94"/>
<rect x="789.07" y="259.6" width="1" height="12.0" fill="#aa2c39"/>
<rect x="788.27" y="260.8" width="2.6" height="7.2" fill="#f23645"/>
<rect x="791.95" y="262.0" width="1" height="8.4" fill="#aa2c39"/>
<rect x="791.15" y="263.2" width="2.6" height="3.6" fill="#f23645"/>
<rect x="794.84" y="263.2" width="1" height="6.0" fill="#aa2c39"/>
<rect x="794.04" y="264.4" width="2.6" height="1.7" fill="#f23645"/>
<rect x="797.73" y="257.2" width="1" height="85.5" fill="#1c7d6d"/>
<rect x="796.93" y="258.4" width="2.6" height="7.2" fill="#22ab94"/>
<rect x="800.62" y="251.1" width="1" height="10.8" fill="#1c7d6d"/>
<rect x="799.82" y="255.5" width="2.6" height="5.3" fill="#22ab94"/>
<rect x="803.51" y="256.0" width="1" height="6.0" fill="#aa2c39"/>
<rect x="802.71" y="257.2" width="2.6" height="1.7" fill="#f23645"/>
<rect x="806.39" y="249.9" width="1" height="13.3" fill="#aa2c39"/>
<rect x="805.59" y="259.6" width="2.6" height="2.4" fill="#f23645"/>
<rect x="809.28" y="253.6" width="1" height="13.3" fill="#aa2c39"/>
<rect x="808.48" y="259.6" width="2.6" height="2.4" fill="#f23645"/>
<rect x="812.17" y="256.0" width="1" height="12.0" fill="#aa2c39"/>
<rect x="811.37" y="261.3" width="2.6" height="3.1" fill="#f23645"/>
<rect x="815.06" y="260.8" width="1" height="10.8" fill="#aa2c39"/>
<rect x="814.26" y="262.0" width="2.6" height="8.4" fill="#f23645"/>
<rect x="817.94" y="268.0" width="1" height="18.1" fill="#aa2c39"/>
<rect x="817.14" y="269.2" width="2.6" height="15.7" fill="#f23645"/>
<rect x="820.83" y="272.5" width="1" height="8.4" fill="#1c7d6d"/>
<rect x="820.03" y="273.7" width="2.6" height="6.0" fill="#22ab94"/>
<rect x="823.72" y="266.5" width="1" height="8.4" fill="#1c7d6d"/>
<rect x="822.92" y="268.9" width="2.6" height="2.4" fill="#22ab94"/>
<rect x="826.61" y="254.5" width="1" height="15.7" fill="#1c7d6d"/>
<rect x="825.81" y="255.7" width="2.6" height="13.3" fill="#22ab94"/>
<rect x="829.49" y="252.0" width="1" height="16.9" fill="#aa2c39"/>
<rect x="828.69" y="254.0" width="2.6" height="11.3" fill="#f23645"/>
<rect x="832.38" y="264.1" width="1" height="9.6" fill="#aa2c39"/>
<rect x="831.58" y="267.7" width="2.6" height="4.8" fill="#f23645"/>
<rect x="835.27" y="265.3" width="1" height="9.6" fill="#1c7d6d"/>
<rect x="834.47" y="268.4" width="2.6" height="3.4" fill="#22ab94"/>
<rect x="838.16" y="264.1" width="1" height="9.6" fill="#aa2c39"/>
<rect x="837.36" y="265.3" width="2.6" height="4.8" fill="#f23645"/>
<rect x="841.05" y="270.1" width="1" height="10.8" fill="#aa2c39"/>
<rect x="840.25" y="271.3" width="2.6" height="8.4" fill="#f23645"/>
<rect x="843.93" y="276.1" width="1" height="4.8" fill="#aa2c39"/>
<rect x="843.13" y="278.1" width="2.6" height="1.7" fill="#f23645"/>
<rect x="846.82" y="276.1" width="1" height="6.0" fill="#1c7d6d"/>
<rect x="846.02" y="277.3" width="2.6" height="3.6" fill="#22ab94"/>
<rect x="849.71" y="276.1" width="1" height="7.2" fill="#aa2c39"/>
<rect x="848.91" y="277.3" width="2.6" height="4.8" fill="#f23645"/>
<rect x="852.60" y="281.0" width="1" height="7.2" fill="#aa2c39"/>
<rect x="851.80" y="281.4" width="2.6" height="4.3" fill="#f23645"/>
<rect x="855.48" y="279.8" width="1" height="7.2" fill="#1c7d6d"/>
<rect x="854.68" y="283.4" width="2.6" height="1.9" fill="#22ab94"/>
<rect x="858.37" y="277.3" width="1" height="10.8" fill="#1c7d6d"/>
<rect x="857.57" y="279.8" width="2.6" height="4.8" fill="#22ab94"/>
<rect x="861.26" y="262.9" width="1" height="69.9" fill="#1c7d6d"/>
<rect x="860.46" y="264.1" width="2.6" height="15.7" fill="#22ab94"/>
<rect x="864.15" y="255.7" width="1" height="12.0" fill="#1c7d6d"/>
<rect x="863.35" y="261.7" width="2.6" height="4.8" fill="#22ab94"/>
<rect x="867.04" y="255.7" width="1" height="74.7" fill="#1c7d6d"/>
<rect x="866.24" y="259.8" width="2.6" height="2.4" fill="#22ab94"/>
<rect x="869.92" y="256.9" width="1" height="69.9" fill="#aa2c39"/>
<rect x="869.12" y="258.8" width="2.6" height="1.0" fill="#f23645"/>
<rect x="872.81" y="258.9" width="1" height="6.0" fill="#aa2c39"/>
<rect x="872.01" y="259.7" width="2.6" height="4.9" fill="#f23645"/>
</g>
<rect x="902.9" y="0.8" width="2.2" height="412.8" fill="#464953"/>
<rect x="4.3" y="395.7" width="933.7" height="1.4" fill="#62656d"/>
<circle cx="124.8" cy="11.3" r="5.6" fill="#0e3634"/>
<circle cx="124.8" cy="11.3" r="2.75" fill="#10b79a"/>
<circle cx="92.8" cy="12.2" r="1.25" fill="#c6c8ce"/>
<rect x="9.9" y="68.9" width="18.4" height="11.4" rx="1.8" fill="#14161b" stroke="#33363f" stroke-width="1"/>
<polyline points="16.4,76 19.1,73.3 21.8,76" fill="none" stroke="#c9cbd1" stroke-width="1.2"/>
<circle cx="22.6" cy="354.3" r="10.7" fill="#131722" stroke="#2b2e3a" stroke-width="1.3"/>
<path d="M15.4 351.2H22.4V358.2H19V353.8H15.4Z M25.9 351.2H29.6L27 358.2H23.5Z" fill="#fff"/>
<circle cx="23.7" cy="352.3" r="1.0" fill="#fff"/>
<rect x="-2" y="360.2" width="5.85" height="17.9" rx="1.3" fill="#9ee8f1"/>
<circle cx="0.3" cy="369.3" r="1.5" fill="none" stroke="#5f8a92" stroke-width="0.8"/>
<polygon points="916.4,405.5 918.75,401.5 923.45,401.5 925.8,405.5 923.45,409.5 918.75,409.5" fill="none" stroke="#8d9099" stroke-width="1.1" stroke-linejoin="round"/>
<circle cx="921.1" cy="405.5" r="1.6" fill="none" stroke="#8d9099" stroke-width="0.9"/>
<polygon points="930.7,413.3 938,413.3 938,406.2" fill="#2c2f37"/>
</svg>
<span class="t" style="left:909.1px;top:11px;font-size:8.4px;color:#9c9ea6;transform:translateY(0.40px) scaleX(0.9300)">36.00</span>
<span class="t" style="left:909.1px;top:55px;font-size:8.4px;color:#9c9ea6;transform:translateY(0.48px) scaleX(0.9300)">32.00</span>
<span class="t" style="left:909.1px;top:77px;font-size:8.4px;color:#9c9ea6;transform:translateY(0.52px) scaleX(0.9300)">30.00</span>
<span class="t" style="left:909.1px;top:99px;font-size:8.4px;color:#9c9ea6;transform:translateY(0.56px) scaleX(0.9300)">28.00</span>
<span class="t" style="left:909.1px;top:121px;font-size:8.4px;color:#9c9ea6;transform:translateY(0.60px) scaleX(0.9300)">26.00</span>
<span class="t" style="left:909.1px;top:143px;font-size:8.4px;color:#9c9ea6;transform:translateY(0.64px) scaleX(0.9300)">24.00</span>
<span class="t" style="left:909.1px;top:165px;font-size:8.4px;color:#9c9ea6;transform:translateY(0.68px) scaleX(0.9300)">22.00</span>
<span class="t" style="left:909.1px;top:187px;font-size:8.4px;color:#9c9ea6;transform:translateY(0.72px) scaleX(0.9300)">20.00</span>
<span class="t" style="left:909.1px;top:209px;font-size:8.4px;color:#9c9ea6;transform:translateY(0.76px) scaleX(0.9300)">18.00</span>
<span class="t" style="left:909.1px;top:231px;font-size:8.4px;color:#9c9ea6;transform:translateY(0.80px) scaleX(0.9300)">16.00</span>
<span class="t" style="left:909.1px;top:297px;font-size:8.4px;color:#9c9ea6;transform:translateY(0.92px) scaleX(0.9300)">10.00</span>
<span class="t" style="left:909.0px;top:319px;font-size:8.4px;color:#9c9ea6;transform:translateY(0.96px) scaleX(0.9073)">8.00</span>
<span class="t" style="left:909.0px;top:341px;font-size:8.4px;color:#9c9ea6;transform:translateY(1.00px) scaleX(0.9073)">6.00</span>
<span class="t" style="left:909.0px;top:364px;font-size:8.4px;color:#9c9ea6;transform:translateY(0.04px) scaleX(0.9073)">4.00</span>
<div class="tag" style="left:882px;top:33.0px;width:22.3px;background:#162f6b;border-radius:0.8px 0 0 0.8px"></div><div class="tag" style="left:903.8px;top:33.0px;width:28.3px;background:#162f6b;border-radius:0 0.8px 0.8px 0"></div><div class="tag" style="left:883.0px;top:338.0px;width:20.8px;background:#162f6b;border-radius:0.8px 0 0 0.8px"></div><div class="tag" style="left:903.8px;top:338.0px;width:24.0px;background:#162f6b;border-radius:0 0.8px 0.8px 0"></div><div class="tag" style="left:903.8px;top:247.4px;width:28.3px;background:#f23645;border-radius:1.2px"></div><div class="tag" style="left:903.8px;top:258.7px;width:28.3px;background:#f23645;border-radius:1.2px"></div><div class="tag" style="left:903.8px;top:270.0px;width:28.3px;background:#ff9800;border-radius:1.2px"></div><div class="tag" style="left:903.8px;top:281.2px;width:28.3px;background:#9c27b0;border-radius:1.2px"></div><div class="tag" style="left:903.8px;top:292.3px;width:28.3px;background:#4caf50;border-radius:1.2px"></div>
<span class="t" style="left:9.7px;top:6px;font-size:10.8px;color:#c6c8ce;text-shadow:0.3px 0 0 currentColor;transform:translateY(0.10px) scaleX(0.8395)">RBOBVEBOBQ124</span>
<span class="t" style="left:97.9px;top:6px;font-size:10.8px;color:#c6c8ce;text-shadow:0.3px 0 0 currentColor;transform:translateY(0.10px) scaleX(0.7891)">1D</span>
<span class="t" style="left:141.6px;top:6px;font-size:8.4px;color:#b0b2b9;transform:translateY(0.30px) scaleX(0.8288)">O</span>
<span class="t" style="left:148.6px;top:6px;font-size:8.4px;color:#e0323f;transform:translateY(0.30px) scaleX(0.9490)">14.01</span>
<span class="t" style="left:173.2px;top:6px;font-size:8.4px;color:#b0b2b9;transform:translateY(0.30px) scaleX(0.8412)">H</span>
<span class="t" style="left:179.5px;top:6px;font-size:8.4px;color:#e0323f;transform:translateY(0.30px) scaleX(0.9824)">14.09</span>
<span class="t" style="left:204.3px;top:6px;font-size:8.4px;color:#b0b2b9;transform:translateY(0.30px) scaleX(0.8000)">L</span>
<span class="t" style="left:209.5px;top:6px;font-size:8.4px;color:#e0323f;transform:translateY(0.30px) scaleX(0.9776)">13.54</span>
<span class="t" style="left:234.3px;top:6px;font-size:8.4px;color:#b0b2b9;transform:translateY(0.30px) scaleX(0.8000)">C</span>
<span class="t" style="left:240.4px;top:6px;font-size:8.4px;color:#e0323f;transform:translateY(0.30px) scaleX(0.9824)">13.57</span>
<span class="t" style="left:265.6px;top:6px;font-size:8.4px;color:#e0323f;transform:translateY(0.30px) scaleX(0.9648)">−0.38 (−2.72%)</span>
<span class="t" style="left:9.8px;top:21px;font-size:8.4px;color:#b0b2b9;transform:translateY(0.10px) scaleX(0.9526)">MA 8 close 0 SMA 9</span>
<span class="t" style="left:87.3px;top:21px;font-size:8.4px;color:#f59a0c;transform:translateY(0.10px) scaleX(0.9872)">13.06</span>
<span class="t" style="left:9.8px;top:37px;font-size:8.4px;color:#b0b2b9;transform:translateY(0.10px) scaleX(0.9559)">MA 21 close 0 SMA 9</span>
<span class="t" style="left:91.9px;top:37px;font-size:8.4px;color:#a22bb5;transform:translateY(0.10px) scaleX(0.9586)">12.88</span>
<span class="t" style="left:9.8px;top:53px;font-size:8.4px;color:#b0b2b9;transform:translateY(0.20px) scaleX(0.9459)">BB 20 2</span>
<span class="t" style="left:44.3px;top:53px;font-size:8.4px;color:#e0323f;transform:translateY(0.20px) scaleX(0.9490)">14.48</span>
<span class="t" style="left:69.3px;top:53px;font-size:8.4px;color:#4caf50;transform:translateY(0.20px) scaleX(0.9929)">11.25</span>
<span class="t" style="left:9.9px;top:378px;font-size:8.4px;color:#b0b2b9;transform:translateY(0.70px) scaleX(0.8976)">RSI 14 SMA 14</span>
<span class="t" style="left:67.0px;top:378px;font-size:8.4px;color:#7e57c2;transform:translateY(0.70px) scaleX(0.9920)">52.06</span>
<span class="t" style="left:143.2px;top:398px;font-size:8.4px;color:#aeb0b8;transform:translateY(0.90px) scaleX(0.8990)">3</span>
<span class="t" style="left:199.6px;top:398px;font-size:8.4px;color:#aeb0b8;transform:translateY(0.90px) scaleX(0.8797)">Feb</span>
<span class="t" style="left:257.0px;top:398px;font-size:8.4px;color:#aeb0b8;transform:translateY(0.90px) scaleX(0.9004)">Mar</span>
<span class="t" style="left:323.9px;top:398px;font-size:8.4px;color:#aeb0b8;transform:translateY(0.90px) scaleX(0.9657)">Apr</span>
<span class="t" style="left:380.7px;top:398px;font-size:8.4px;color:#aeb0b8;transform:translateY(0.90px) scaleX(0.8971)">May</span>
<span class="t" style="left:447.7px;top:398px;font-size:8.4px;color:#aeb0b8;transform:translateY(0.90px) scaleX(0.9323)">Jun</span>
<span class="t" style="left:512.0px;top:398px;font-size:8.4px;color:#aeb0b8;transform:translateY(0.90px) scaleX(0.9796)">Jul</span>
<span class="t" style="left:571.7px;top:398px;font-size:8.4px;color:#aeb0b8;transform:translateY(0.90px) scaleX(0.9124)">Aug</span>
<span class="t" style="left:638.3px;top:398px;font-size:8.4px;color:#aeb0b8;transform:translateY(0.90px) scaleX(0.8654)">Sep</span>
<span class="t" style="left:699.3px;top:398px;font-size:8.4px;color:#aeb0b8;transform:translateY(0.90px) scaleX(0.9362)">Oct</span>
<span class="t" style="left:762.3px;top:398px;font-size:8.4px;color:#aeb0b8;transform:translateY(0.90px) scaleX(0.8990)">Nov</span>
<span class="t" style="left:825.8px;top:398px;font-size:8.4px;color:#aeb0b8;transform:translateY(0.90px) scaleX(0.8721)">Dec</span>
<span class="t" style="left:884.6px;top:32px;font-size:8.4px;color:#ffffff;font-weight:bold;transform:translateY(0.30px) scaleX(0.8168)">High</span>
<span class="t" style="left:909.3px;top:32px;font-size:8.4px;color:#ffffff;font-weight:bold;transform:translateY(0.30px) scaleX(0.9156)">34.12</span>
<span class="t" style="left:886.5px;top:337px;font-size:8.4px;color:#ffffff;font-weight:bold;transform:translateY(0.60px) scaleX(0.7940)">Low</span>
<span class="t" style="left:909.7px;top:337px;font-size:8.4px;color:#ffffff;font-weight:bold;transform:translateY(0.60px) scaleX(0.8705)">6.40</span>
<span class="t" style="left:909.8px;top:247px;font-size:8.4px;color:#ffffff;font-weight:bold;transform:translateY(0.00px) scaleX(0.9061)">14.48</span>
<span class="t" style="left:909.8px;top:258px;font-size:8.4px;color:#ffffff;font-weight:bold;transform:translateY(0.10px) scaleX(0.9061)">13.57</span>
<span class="t" style="left:909.8px;top:269px;font-size:8.4px;color:#2b1c00;font-weight:bold;transform:translateY(0.30px) scaleX(0.9061)">13.06</span>
<span class="t" style="left:909.8px;top:280px;font-size:8.4px;color:#ffffff;font-weight:bold;transform:translateY(0.50px) scaleX(0.9061)">12.88</span>
<span class="t" style="left:909.8px;top:291px;font-size:8.4px;color:#ffffff;font-weight:bold;transform:translateY(0.60px) scaleX(0.9268)">11.25</span>
</div></body></html>
